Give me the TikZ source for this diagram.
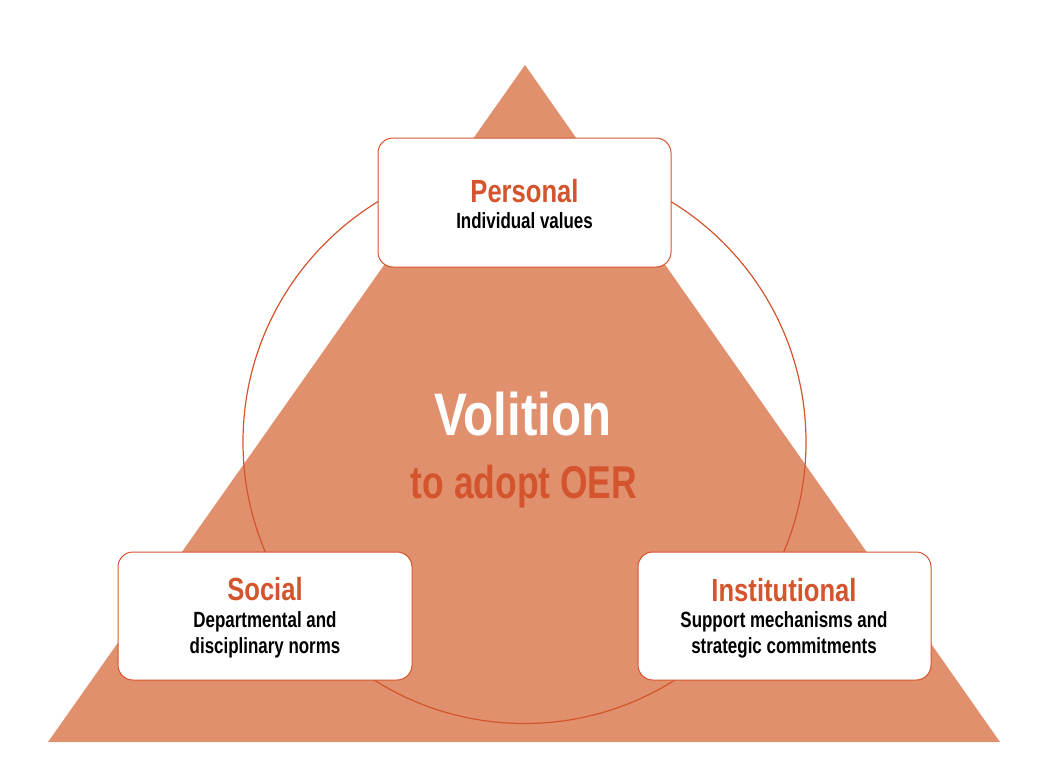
\documentclass[tikz,border=0pt]{standalone}
\usepackage{fontspec}
\newfontfamily\cnd[FakeStretch=0.8]{Liberation Sans Bold}
\newfontfamily\cndn[FakeStretch=0.77]{Liberation Sans Bold}
\newfontfamily\cndv[FakeStretch=0.82]{Liberation Sans Bold}
\definecolor{trifill}{HTML}{E0906C}
\definecolor{dark}{HTML}{D4552D}
\tikzset{
  card/.style={draw=dark, line width=1pt, fill=white, rounded corners=15pt, inner sep=0pt},
  head/.style={anchor=base, text=dark, inner sep=0pt, font=\cnd\fontsize{32}{32}\selectfont},
  body/.style={anchor=base, text=black, inner sep=0pt, font=\cndn\fontsize{22}{22}\selectfont},
}
\begin{document}
\begin{tikzpicture}[x=1pt,y=-1pt]
\useasboundingbox (0,0) rectangle (1038,760);
\path[fill=trifill] (525,65) -- (1000,742) -- (48,742) -- cycle;
\draw[dark, line width=1.2pt] (524.5,442) circle[radius=281.5];
% boxes
\node[card, minimum width=293pt, minimum height=129pt] (personal) at (524.5,202.5) {};
\node[card, minimum width=294pt, minimum height=128pt] (social) at (265,616) {};
\node[card, minimum width=293pt, minimum height=128pt] (inst) at (784.5,616) {};
% texts
\node[head] (ph) at (524.5,202) {Personal};
\node[body] (pb) at (524.5,228) {Individual values};
\node[head] (sh) at (265,600) {Social};
\node[body] (sb1) at (265,627) {Departmental and};
\node[body] (sb2) at (265,653) {disciplinary norms};
\node[head] (ih) at (784,601) {Institutional};
\node[body] (ib1) at (784,627) {Support mechanisms and};
\node[body] (ib2) at (784,653) {strategic commitments};
\node[anchor=base, text=white, inner sep=0pt, font=\cndv\fontsize{60}{60}\selectfont] (vol) at (523,435) {Volition};
\node[anchor=base, text=dark, inner sep=0pt, font=\cndn\fontsize{46}{46}\selectfont] (adopt) at (524,498) {to adopt OER};
\end{tikzpicture}
\end{document}
